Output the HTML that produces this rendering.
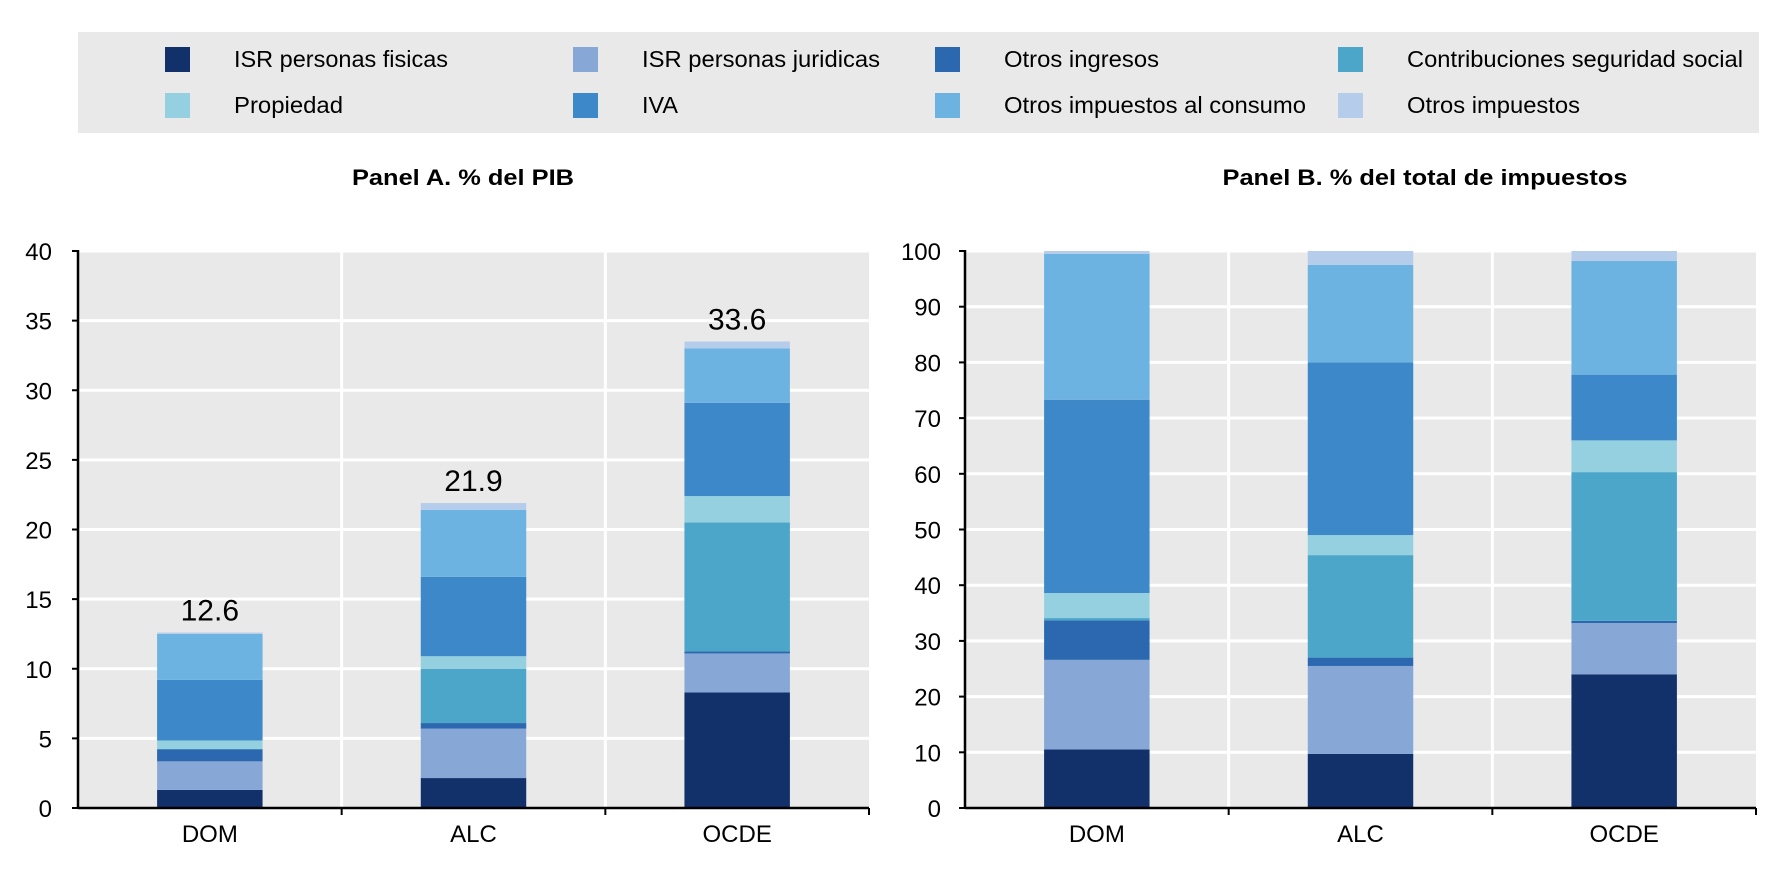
<!DOCTYPE html>
<html><head><meta charset="utf-8"><style>
html,body{margin:0;padding:0;background:#fff;}
svg{display:block;font-family:"Liberation Sans",Arial,sans-serif;}
</style></head><body>
<svg id="chart" width="1788" height="882" viewBox="0 0 1788 882" xmlns="http://www.w3.org/2000/svg">
<rect x="78" y="32" width="1681" height="101" fill="#e9e9e9"/>
<g id="legend"></g>
<text x="463" y="185" text-anchor="middle" font-size="22" font-weight="bold" textLength="222" lengthAdjust="spacingAndGlyphs">Panel A. % del PIB</text>
<text x="1425" y="185" text-anchor="middle" font-size="22" font-weight="bold" textLength="405" lengthAdjust="spacingAndGlyphs">Panel B. % del total de impuestos</text>
<g id="panelA"></g>
<g id="panelB"></g>
</svg>
<script>
const categories = ["DOM","ALC","OCDE"];
const seriesNames = ["ISR personas fisicas","ISR personas juridicas","Otros ingresos","Contribuciones seguridad social","Propiedad","IVA","Otros impuestos al consumo","Otros impuestos"];
const colors = ["#12306a","#87a7d6","#2b68b0","#4ba6c9","#95d0e0","#3c88c8","#6db3e2","#b5cdea"];
// Panel A: % of GDP, per category, stacked in seriesNames order
const gdpDOM  = [1.3, 2.05, 0.85, 0.05, 0.6, 4.35, 3.3, 0.1];
const gdpALC  = [2.15, 3.55, 0.4, 3.9, 0.9, 5.7, 4.8, 0.5];
const gdpOCDE = [8.3, 2.8, 0.15, 9.25, 1.9, 6.7, 3.9, 0.5];
const gdpTotals = ["12.6","21.9","33.6"];
const gdpTicks = [0,5,10,15,20,25,30,35,40];
// Panel B: % of total taxes
const shareDOM  = [10.5, 16.1, 7.1, 0.4, 4.5, 34.7, 26.2, 0.5];
const shareALC  = [9.7, 15.8, 1.5, 18.4, 3.6, 31.0, 17.5, 2.5];
const shareOCDE = [24.0, 9.2, 0.4, 26.7, 5.7, 11.8, 20.4, 1.8];
const shareTicks = [0,10,20,30,40,50,60,70,80,90,100];

const NS = "http://www.w3.org/2000/svg";
function mk(tag, attrs, parent){const e=document.createElementNS(NS,tag);for(const k in attrs)e.setAttribute(k,attrs[k]);parent.appendChild(e);return e;}

const lg=document.getElementById('legend');
const colX=[165,573,935,1338], rowY=[59,105];
const lwidths=[214,238,155,336,109,36,302,173];
seriesNames.forEach((n,i)=>{
  const cx=colX[i%4], cy=rowY[Math.floor(i/4)];
  const r=mk('rect',{x:cx,y:cy-12,width:25,height:25,fill:colors[i]},lg);
  
  
  const t=mk('text',{x:cx+69,y:cy+8,'font-size':23,textLength:lwidths[i],lengthAdjust:'spacingAndGlyphs',fill:'#000'},lg);
  t.textContent=n;
  
  
});

function panel(g, x0, x1, yMax, ticks, data, totals, tickX){
  const y0=808, yTop=251;
  const ys=v=>y0-(v/yMax)*(y0-yTop);
  const cw=(x1-x0)/categories.length;
  mk('rect',{x:x0,y:yTop,width:x1-x0,height:y0-yTop,fill:'#e9e9e9'},g);
  ticks.forEach(t=>{
    if(t>0){const l=mk('line',{x1:x0,x2:x1,y1:ys(t),y2:ys(t),stroke:'#fff','stroke-width':3},g);
    
    }
    mk('line',{x1:x0-6,x2:x0,y1:ys(t),y2:ys(t),stroke:'#000','stroke-width':2},g);
    const tx=mk('text',{x:tickX,y:ys(t)+9,'font-size':24,'text-anchor':'end',fill:'#000'},g);
    tx.textContent=t;
    
    
  });
  for(let i=1;i<categories.length;i++){
    mk('line',{x1:x0+cw*i,x2:x0+cw*i,y1:yTop,y2:y0,stroke:'#fff','stroke-width':3},g);
  }
  categories.forEach((c,ci)=>{
    const bw=cw*0.4, bx=x0+cw*ci+(cw-bw)/2;
    let acc=0;
    data[ci].forEach((v,si)=>{
      const r=mk('rect',{x:bx,y:ys(acc+v),width:bw,height:ys(acc)-ys(acc+v),fill:colors[si]},g);
      
      
      acc+=v;
    });
    if(totals){
      const t=mk('text',{x:bx+bw/2,y:ys(acc)-12,'font-size':30,'text-anchor':'middle',fill:'#000'},g);
      t.textContent=totals[ci];
      
      
    }
    const cl=mk('text',{x:x0+cw*ci+cw/2,y:842,'font-size':24,'text-anchor':'middle',fill:'#000'},g);
    cl.textContent=c;
    
    
  });
  mk('line',{x1:x0,x2:x0,y1:yTop-1,y2:y0+1,stroke:'#000','stroke-width':2.5},g);
  mk('line',{x1:x0,x2:x1,y1:y0,y2:y0,stroke:'#000','stroke-width':2.5},g);
  for(let i=1;i<=categories.length;i++){
    mk('line',{x1:x0+cw*i,x2:x0+cw*i,y1:y0,y2:y0+7,stroke:'#000','stroke-width':2},g);
  }
}
panel(document.getElementById('panelA'),78,869,40,gdpTicks,[gdpDOM,gdpALC,gdpOCDE],gdpTotals,52);
panel(document.getElementById('panelB'),965,1756,100,shareTicks,[shareDOM,shareALC,shareOCDE],null,941);
</script>
</body></html>
